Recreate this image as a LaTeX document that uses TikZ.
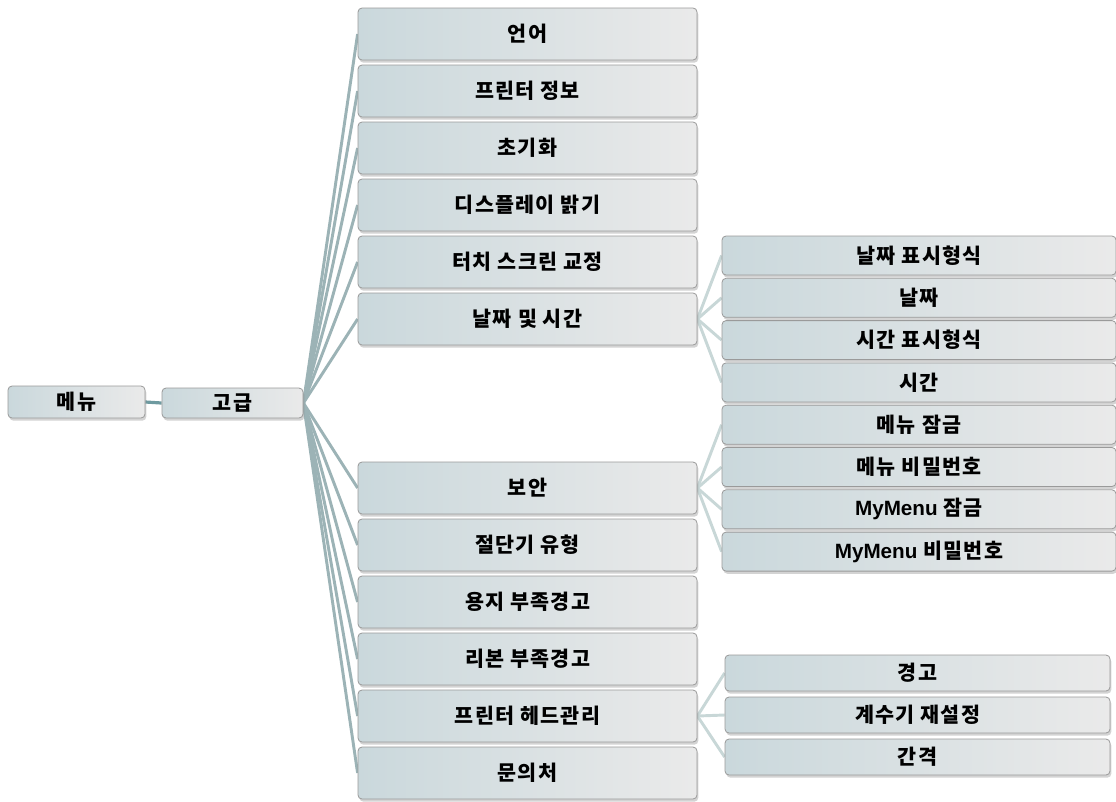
\documentclass[tikz,border=0pt]{standalone}
\usepackage{fontspec}
\setmainfont{Noto Sans CJK KR}[LetterSpace=6]
\newfontfamily\latfont{Liberation Sans}
\usetikzlibrary{shadows,backgrounds}
\definecolor{boxleft}{HTML}{CAD8DC}
\definecolor{boxright}{HTML}{EAEAEA}
\definecolor{boxline}{HTML}{9A9A9A}
\definecolor{mainline}{HTML}{9CB3B6}
\definecolor{subline}{HTML}{C8D7D7}
\definecolor{rootline}{HTML}{6E9AA0}
\tikzset{
  menubox/.style={draw=boxline, line width=0.6pt, rounded corners=3pt,
    left color=boxleft, right color=boxright, shading angle=90,
    drop shadow={opacity=0.35, shadow xshift=1pt, shadow yshift=-2pt},
    inner sep=0pt, font=\fontsize{15.5pt}{17pt}\selectfont\bfseries, text=black},
  rootbox/.style={menubox, minimum width=102.75pt, minimum height=24pt},
  lvlone/.style={menubox, minimum width=105.75pt, minimum height=22.5pt},
  midbox/.style={menubox, minimum width=254.25pt, minimum height=39pt},
  rightbox/.style={menubox, minimum width=295.5pt, minimum height=29.25pt},
  lowbox/.style={menubox, minimum width=288.75pt, minimum height=27pt},
  mainconn/.style={draw=mainline, line width=2.2pt},
  subconn/.style={draw=subline, line width=2.2pt},
  rootconn/.style={draw=rootline, line width=2.4pt}
}
\begin{document}
\begin{tikzpicture}[x=0.75pt,y=-0.75pt]
\useasboundingbox (0,0) rectangle (1116,801);
\node[rootbox] (menu) at (76.5,402) {메뉴};
\node[lvlone] (adv) at (232.5,403) {고급};
\node[midbox] (m1) at (527.5,34) {언어};
\node[midbox] (m2) at (527.5,91) {프린터 정보};
\node[midbox] (m3) at (527.5,148) {초기화};
\node[midbox] (m4) at (527.5,205) {디스플레이 밝기};
\node[midbox] (m5) at (527.5,262) {터치 스크린 교정};
\node[midbox] (m6) at (527.5,319) {날짜 및 시간};
\node[midbox] (m7) at (527.5,488) {보안};
\node[midbox] (m8) at (527.5,545) {절단기 유형};
\node[midbox] (m9) at (527.5,602) {용지 부족경고};
\node[midbox] (m10) at (527.5,659) {리본 부족경고};
\node[midbox] (m11) at (527.5,716) {프린터 헤드관리};
\node[midbox] (m12) at (527.5,773) {문의처};
\node[rightbox] (d1) at (919,255.5) {날짜 표시형식};
\node[rightbox] (d2) at (919,297.8) {날짜};
\node[rightbox] (d3) at (919,340.1) {시간 표시형식};
\node[rightbox] (d4) at (919,382.4) {시간};
\node[rightbox] (s1) at (919,424.7) {메뉴 잠금};
\node[rightbox] (s2) at (919,467) {메뉴 비밀번호};
\node[rightbox] (s3) at (919,509.3) {{\latfont\bfseries MyMenu} 잠금};
\node[rightbox] (s4) at (919,551.6) {{\latfont\bfseries MyMenu} 비밀번호};
\node[lowbox] (h1) at (917.5,673) {경고};
\node[lowbox] (h2) at (917.5,715) {계수기 재설정};
\node[lowbox] (h3) at (917.5,757) {간격};
\begin{scope}[on background layer]
\draw[rootconn] (menu.east) -- (adv.west);
\foreach \n in {m1,m2,m3,m4,m5,m6,m7,m8,m9,m10,m11,m12}
  \draw[mainconn] (adv.east) -- (\n.west);
\foreach \n in {d1,d2,d3,d4}
  \draw[subconn] (m6.east) -- (\n.west);
\foreach \n in {s1,s2,s3,s4}
  \draw[subconn] (m7.east) -- (\n.west);
\foreach \n in {h1,h2,h3}
  \draw[subconn] (m11.east) -- (\n.west);
\end{scope}
\end{tikzpicture}
\end{document}
